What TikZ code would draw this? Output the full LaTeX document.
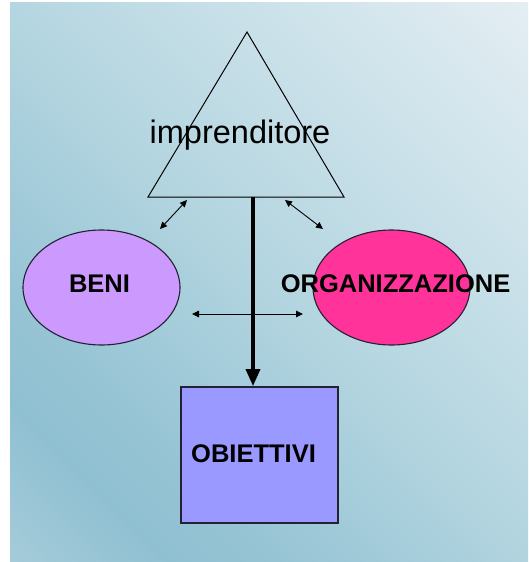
\documentclass[tikz,border=0pt]{standalone}
\usepackage{fontspec}
\setmainfont{Liberation Sans}
\usetikzlibrary{shapes.geometric,arrows.meta}

\definecolor{bgA}{HTML}{A5CBD9}
\definecolor{bgB}{HTML}{8FC0D2}
\definecolor{bgC}{HTML}{95C3D4}
\definecolor{bgD}{HTML}{B3D5E0}
\definecolor{bgE}{HTML}{E4EEF3}
\definecolor{beniFill}{HTML}{CC99FF}
\definecolor{orgFill}{HTML}{FF3399}
\definecolor{objFill}{HTML}{9999FF}
\definecolor{edge}{HTML}{222233}

% diagonal backdrop: darkest band near the lower left, light towards the upper right
\pgfdeclarehorizontalshading{panelshade}{100bp}{%
  color(0bp)=(bgA); color(14.64bp)=(bgA); color(25bp)=(bgB);
  color(31bp)=(bgC); color(50bp)=(bgD); color(85.4bp)=(bgE); color(100bp)=(bgE)}

\tikzset{
  blob/.style={ellipse, draw=edge, line width=1.1pt, minimum width=157pt,
               minimum height=115pt, inner sep=0pt},
  boxnode/.style={rectangle, draw=edge, line width=1.8pt, fill=objFill,
                  minimum width=157pt, minimum height=136pt, inner sep=0pt},
  caption/.style={font=\fontsize{25.5}{28}\selectfont\bfseries, inner sep=0pt, anchor=base},
  twoway/.style={line width=0.9pt, {Triangle[length=7pt,width=6.5pt]}-{Triangle[length=7pt,width=6.5pt]}},
  mainflow/.style={line width=3.4pt, -{Triangle[length=17pt,width=14pt]}}
}

\begin{document}
\begin{tikzpicture}[x=1pt,y=-1pt]
\useasboundingbox (0,0) rectangle (528,562);
\fill[white] (0,0) rectangle (528,562);
\fill[shading=panelshade, shading angle=45] (10,2) rectangle (528,562);

% triangle
\coordinate (apex) at (247,32);
\coordinate (tl) at (148,197);
\coordinate (tr) at (344,197);
\draw[line width=1pt, line join=miter] (apex) -- (tl) -- (tr) -- cycle;
\node[font=\fontsize{32.5}{35}\selectfont, inner sep=0pt, anchor=base] (imp) at (240,143) {imprenditore};

% side ellipses and goal box
\node[blob, fill=beniFill] (beni) at (101.5,287.5) {};
\node[blob, fill=orgFill] (org) at (391.5,287.5) {};
\node[boxnode] (obj) at (259.5,455) {};

\node[caption] (beniT) at (99.5,292) {BENI};
\node[caption] (orgT) at (395.5,292) {ORGANIZZAZIONE};
\node[caption] (objT) at (253.5,462) {OBIETTIVI};

% connectors
\coordinate (down0) at (253,197);
\draw[mainflow] (down0) -- (obj.north -| down0);

\coordinate (la) at (187,200);
\coordinate (lb) at (160,229);
\draw[twoway] (la) -- (lb);

\coordinate (ra) at (285,200);
\coordinate (rb) at (323,229);
\draw[twoway] (ra) -- (rb);

\coordinate (ha) at (192,314);
\coordinate (hb) at (303,314);
\draw[twoway] (ha) -- (hb);
\end{tikzpicture}
\end{document}
